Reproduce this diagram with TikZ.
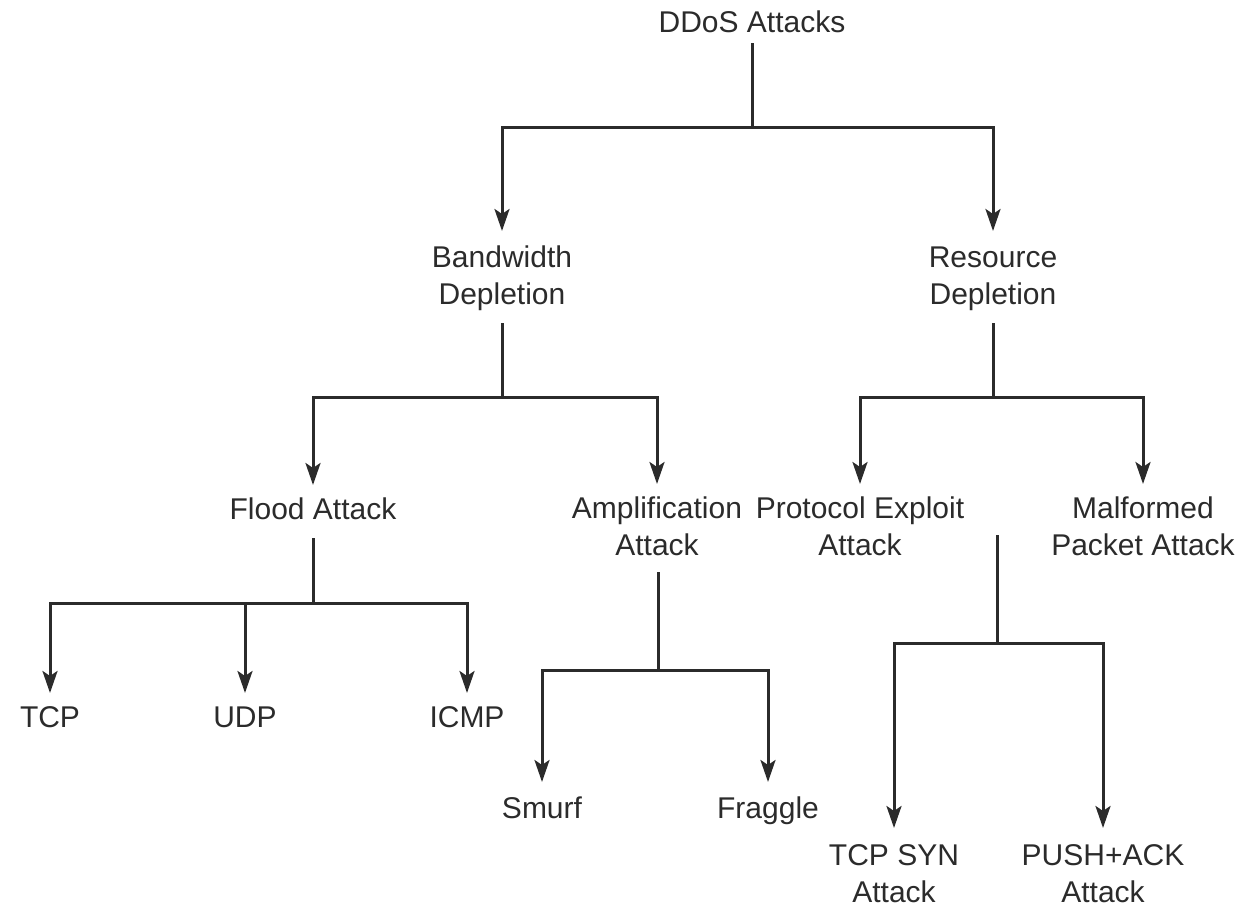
\documentclass[tikz,border=0pt]{standalone}
\usepackage{fontspec}
\setmainfont{Liberation Sans}
\usetikzlibrary{arrows.meta}
\definecolor{ink}{HTML}{2B2B2B}
\tikzset{
  lbl/.style={anchor=north, inner sep=0pt, align=center, text=ink,
    font=\fontsize{30}{37}\selectfont, text height=22pt, text depth=6pt},
  lbltwo/.style={lbl, text height=59pt},
  conn/.style={draw=ink, line width=3pt},
  arr/.style={conn, -{Stealth[length=22pt, width=15pt, inset=5pt]}, shorten >=14pt},
}
\begin{document}
\begin{tikzpicture}[x=1pt, y=-1pt]
\useasboundingbox (0,0) rectangle (1243,909);
% nodes
\node[lbl] (ddos) at (752,10) {DDoS Attacks};
\node[lbltwo] (bw) at (502,245) {Bandwidth\\Depletion};
\node[lbltwo] (rd) at (993,245) {Resource\\Depletion};
\node[lbl] (flood) at (313,497) {Flood Attack};
\node[lbltwo] (amp) at (657,496) {Amplification\\Attack};
\node[lbltwo] (pe) at (860,496) {Protocol Exploit\\Attack};
\node[lbltwo] (mal) at (1143,496) {Malformed\\Packet Attack};
\node[lbl] (tcp) at (50,705) {TCP};
\node[lbl] (udp) at (245,705) {UDP};
\node[lbl] (icmp) at (467,705) {ICMP};
\node[lbl] (smurf) at (542,796) {Smurf};
\node[lbl] (fraggle) at (768,796) {Fraggle};
\node[lbltwo] (syn) at (894,843) {TCP SYN\\Attack};
\node[lbltwo] (push) at (1103,843) {PUSH+ACK\\Attack};
% junctions
\coordinate (j0) at (752,128);
\coordinate (jbw) at (502,398);
\coordinate (jrd) at (993,398);
\coordinate (jfl) at (313,603);
\coordinate (jamp) at (658,670);
\coordinate (pes) at (997,535);
\coordinate (jpe) at (997,643);
% stems
\draw[conn, shorten <=5pt] (ddos.south) -- (j0);
\draw[conn, shorten <=13pt] (bw.south) -- (jbw);
\draw[conn, shorten <=13pt] (rd.south) -- (jrd);
\draw[conn, shorten <=13pt] (flood.south) -- (jfl);
\draw[conn] (amp.south -| jamp) ++(0,11) -- (jamp);
\draw[conn] (pes) -- (jpe);
% branches
\draw[arr] (j0) -| (bw.north);
\draw[arr] (j0) -| (rd.north);
\draw[arr, shorten >=12pt] (jbw) -| (flood.north);
\draw[arr, shorten >=12pt] (jbw) -| (amp.north);
\draw[arr, shorten >=12pt] (jrd) -| (pe.north);
\draw[arr, shorten >=12pt] (jrd) -| (mal.north);
\draw[arr, shorten >=12pt] (jfl) -| (tcp.north);
\draw[arr, shorten >=12pt] (jfl) -| (udp.north);
\draw[arr, shorten >=12pt] (jfl) -| (icmp.north);
\draw[arr] (jamp) -| (smurf.north);
\draw[arr] (jamp) -| (fraggle.north);
\draw[arr, shorten >=15pt] (jpe) -| (syn.north);
\draw[arr, shorten >=15pt] (jpe) -| (push.north);
\end{tikzpicture}
\end{document}
